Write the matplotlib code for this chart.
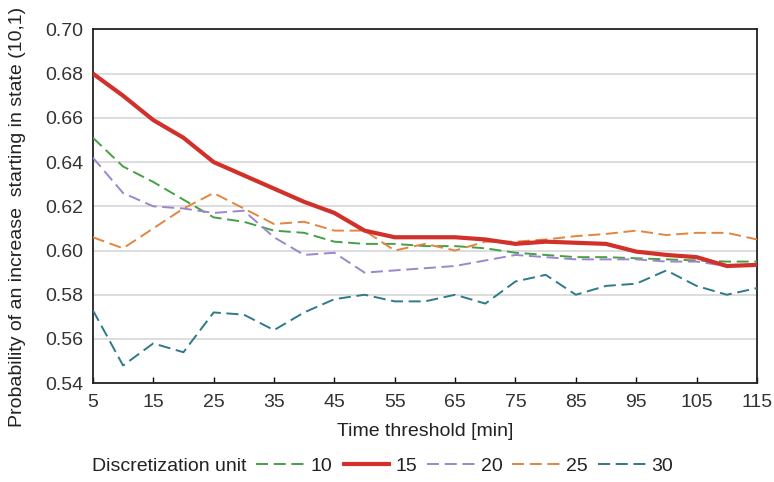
import matplotlib
matplotlib.use("Agg")
import matplotlib.pyplot as plt

plt.rcParams['font.family'] = ['Liberation Sans', 'DejaVu Sans']

thresholds = [5, 10, 15, 20, 25, 30, 35, 40, 45, 50, 55, 60, 65, 70, 75, 80, 85, 90, 95, 100, 105, 110, 115]

unit_10 = [0.651, 0.638, 0.631, 0.623, 0.615, 0.613, 0.609, 0.608, 0.604, 0.603, 0.603, 0.602, 0.602, 0.601, 0.599, 0.598, 0.597, 0.597, 0.5965, 0.596, 0.5955, 0.595, 0.595]
unit_15 = [0.680, 0.670, 0.659, 0.651, 0.640, 0.634, 0.628, 0.622, 0.617, 0.609, 0.606, 0.606, 0.606, 0.605, 0.603, 0.604, 0.6035, 0.603, 0.5995, 0.598, 0.597, 0.593, 0.5935]
unit_20 = [0.642, 0.626, 0.620, 0.619, 0.617, 0.618, 0.606, 0.598, 0.599, 0.590, 0.591, 0.592, 0.593, 0.5955, 0.598, 0.597, 0.596, 0.596, 0.596, 0.595, 0.595, 0.593, 0.593]
unit_25 = [0.606, 0.601, 0.610, 0.619, 0.626, 0.619, 0.612, 0.613, 0.609, 0.609, 0.600, 0.603, 0.600, 0.604, 0.604, 0.605, 0.6065, 0.6075, 0.609, 0.607, 0.608, 0.608, 0.605]
unit_30 = [0.573, 0.548, 0.558, 0.554, 0.572, 0.571, 0.564, 0.572, 0.578, 0.580, 0.577, 0.577, 0.580, 0.576, 0.586, 0.589, 0.580, 0.584, 0.585, 0.591, 0.584, 0.580, 0.583]

series_labels = ['10', '15', '20', '25', '30']
x_ticks = [5, 15, 25, 35, 45, 55, 65, 75, 85, 95, 105, 115]
y_ticks = [0.54, 0.56, 0.58, 0.60, 0.62, 0.64, 0.66, 0.68, 0.70]

colors = ['#45A045', '#D2302A', '#9C86CC', '#E2853F', '#2E7A88']
dash = (0, (6.2, 2.9))
FS = 14

fig = plt.figure(figsize=(7.74, 4.82), dpi=100)
ax = fig.add_axes([0.120, 0.205, 0.858, 0.734])

series = [unit_10, unit_15, unit_20, unit_25, unit_30]
handles = []
for vals, lab, col in zip(series, series_labels, colors):
    if lab == '15':
        h, = ax.plot(thresholds, vals, color=col, lw=3.0, solid_capstyle='butt', zorder=5, label=lab)
    else:
        h, = ax.plot(thresholds, vals, color=col, lw=1.4, linestyle=dash, zorder=4, label=lab)
    handles.append(h)

ax.set_xlim(5, 115)
ax.set_ylim(0.54, 0.70)
ax.set_xticks(x_ticks)
ax.set_xticklabels([str(t) for t in x_ticks])
ax.set_yticks(y_ticks)
ax.set_yticklabels([f"{v:.2f}" for v in y_ticks])
ax.yaxis.grid(True, color='#DADADA', lw=1.3)
ax.set_axisbelow(True)
ax.tick_params(axis='x', direction='in', length=4, width=1, labelsize=FS, pad=8)
ax.tick_params(axis='y', length=0, labelsize=FS, pad=7)
for lbl in ax.get_xticklabels() + ax.get_yticklabels():
    lbl.set_color('#333333')
for sp in ax.spines.values():
    sp.set_color('#222222')
    sp.set_linewidth(1.3)

ax.set_xlabel('Time threshold [min]', fontsize=FS, color='#222222')
ax.xaxis.set_label_coords(0.5, -0.1375)
ax.xaxis.label.set_va('center')
ax.set_ylabel('Probability of an increase  starting in state (10,1)', fontsize=FS, color='#222222')
ax.yaxis.set_label_coords(-0.114, 0.47)
ax.yaxis.label.set_va('center')

fig.text(0.119, 0.033, 'Discretization unit', fontsize=FS, color='#222222', va='center', ha='left')
leg = fig.legend(handles=handles, labels=series_labels, loc='center left',
                 bbox_to_anchor=(0.331, 0.033), ncol=5, frameon=False, fontsize=FS,
                 handlelength=2.57, handletextpad=0.2, columnspacing=0.5, borderaxespad=0, borderpad=0)
for t in leg.get_texts():
    t.set_color('#222222')

fig.savefig('out.png', dpi=100)
